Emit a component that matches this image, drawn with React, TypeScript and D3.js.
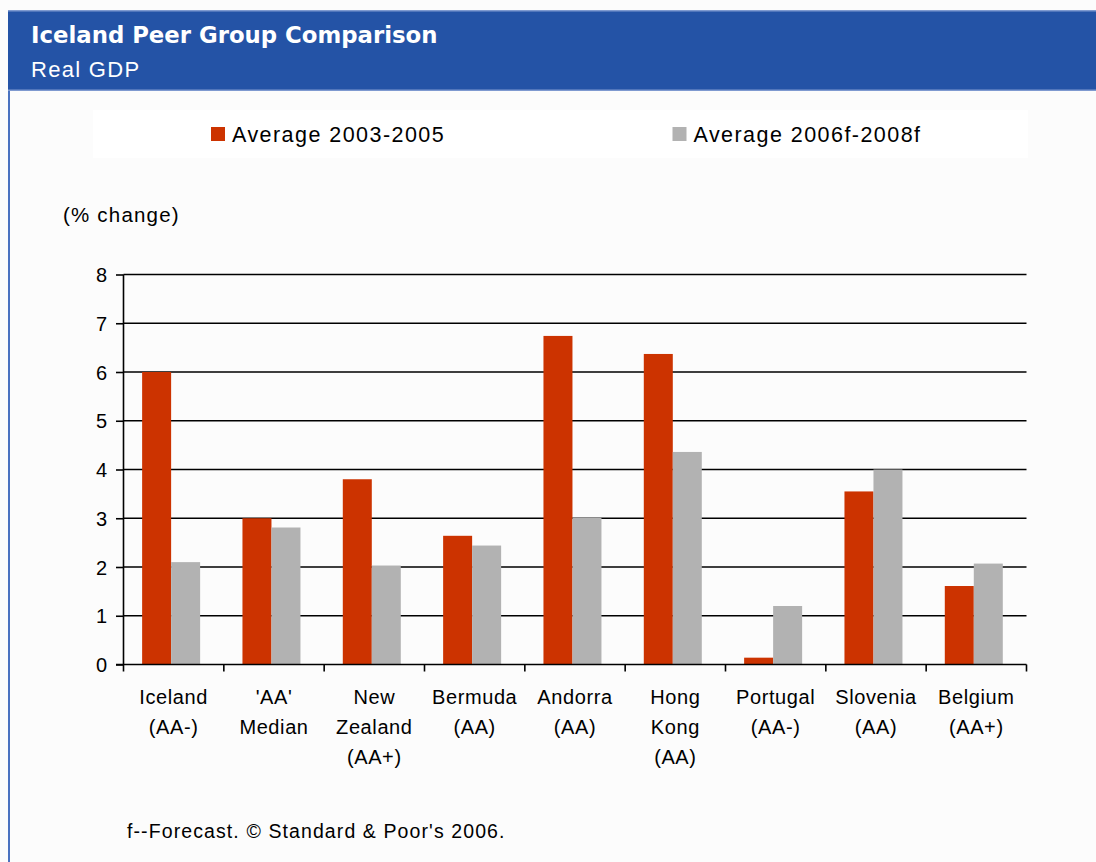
import React from 'react';
import * as d3 from 'd3';

const categories = [
  ["Iceland", "(AA-)"],
  ["'AA'", "Median"],
  ["New", "Zealand", "(AA+)"],
  ["Bermuda", "(AA)"],
  ["Andorra", "(AA)"],
  ["Hong", "Kong", "(AA)"],
  ["Portugal", "(AA-)"],
  ["Slovenia", "(AA)"],
  ["Belgium", "(AA+)"],
];
const seriesNames = ["Average 2003-2005", "Average 2006f-2008f"];
const avg2003_2005 = [6.0, 3.0, 3.8, 2.64, 6.74, 6.37, 0.14, 3.55, 1.61];
const avg2006_2008 = [2.1, 2.81, 2.03, 2.44, 3.01, 4.36, 1.2, 4.0, 2.07];
const yTicks = [0, 1, 2, 3, 4, 5, 6, 7, 8];
const colors = ["#cc3300", "#b2b2b2"];

const FONT = "'Liberation Sans', Arial, sans-serif";

const App = () => {
  const svgRef = React.useRef(null);
  const W = 1096, H = 862;
  const plot = { left: 123.5, right: 1026.5, top: 274.5, bottom: 664.5 };

  React.useEffect(() => {
    const svg = d3.select(svgRef.current);
    svg.selectAll("*").remove();

    svg.append("rect").attr("width", W).attr("height", H).attr("fill", "#fcfcfc");

    // header
    svg.append("rect").attr("x", 8).attr("y", 10).attr("width", W - 8).attr("height", 81)
      .attr("fill", "#2453a6");
    svg.append("rect").attr("x", 8).attr("y", 10).attr("width", W - 8).attr("height", 1.5)
      .attr("fill", "#7f9ad0");
    svg.append("rect").attr("x", 8).attr("y", 89.5).attr("width", W - 8).attr("height", 1.5)
      .attr("fill", "#7f9ad0");
    svg.append("rect").attr("x", 8).attr("y", 91).attr("width", 2).attr("height", H - 91)
      .attr("fill", "#4a72c0");

    svg.append("text").attr("x", 31).attr("y", 43)
      .style("font-family", "'DejaVu Sans', Tahoma, sans-serif").style("font-weight", "bold")
      .style("font-size", "22.8px").attr("fill", "#fff")
      .text("Iceland Peer Group Comparison");
    svg.append("text").attr("x", 31).attr("y", 77)
      .style("font-family", FONT).style("font-size", "22px").style("letter-spacing", "1.3px")
      .attr("fill", "#fff")
      .text("Real GDP");

    // legend
    svg.append("rect").attr("x", 93).attr("y", 110).attr("width", 935).attr("height", 48)
      .attr("fill", "#ffffff");
    const legendX = [211, 672.5];
    seriesNames.forEach((s, i) => {
      svg.append("rect").attr("x", legendX[i]).attr("y", 127).attr("width", 14).attr("height", 14)
        .attr("fill", colors[i]);
      svg.append("text").attr("x", legendX[i] + 21).attr("y", 142)
        .style("font-family", FONT).style("font-size", "21.5px").style("letter-spacing", "1.45px")
        .attr("fill", "#000").text(s);
    });

    svg.append("text").attr("x", 63).attr("y", 222)
      .style("font-family", FONT).style("font-size", "20.5px").style("letter-spacing", "1.2px")
      .attr("fill", "#000").text("(% change)");

    // scales
    const x0 = d3.scaleBand().domain(d3.range(categories.length))
      .range([plot.left, plot.right]).paddingInner(0).paddingOuter(0);
    const x1 = d3.scaleBand().domain(d3.range(2))
      .range([0, x0.bandwidth()]).paddingInner(0).paddingOuter(0.73).align(0.44);
    const y = d3.scaleLinear().domain([0, 8]).range([plot.bottom, plot.top]);

    // gridlines
    svg.append("g").selectAll("line").data(yTicks.slice(1)).enter().append("line")
      .attr("x1", plot.left).attr("x2", plot.right)
      .attr("y1", (d) => y(d)).attr("y2", (d) => y(d))
      .attr("stroke", "#000").attr("stroke-width", 1.6);

    // bars
    const series = [avg2003_2005, avg2006_2008];
    series.forEach((vals, si) => {
      svg.append("g").selectAll("rect").data(vals).enter().append("rect")
        .attr("x", (d, i) => x0(i) + x1(si))
        .attr("y", (d) => y(d))
        .attr("width", x1.bandwidth())
        .attr("height", (d) => y(0) - y(d))
        .attr("fill", colors[si]);
    });

    // y axis
    const yAxis = svg.append("g").attr("transform", `translate(${plot.left},0)`)
      .call(d3.axisLeft(y).tickValues(yTicks).tickSize(7.5).tickPadding(9).tickFormat(d3.format("d")));
    yAxis.select(".domain").attr("stroke", "#000").attr("stroke-width", 1.6)
      .attr("d", `M0,${plot.top}V${plot.bottom}`);
    yAxis.selectAll(".tick line").attr("stroke", "#000").attr("stroke-width", 1.6);
    yAxis.selectAll(".tick text").style("font-family", FONT).style("font-size", "20px")
      .attr("fill", "#000").attr("dy", "0.36em");

    // x axis
    const xg = svg.append("g");
    xg.append("line").attr("x1", plot.left - 7.5).attr("x2", plot.right)
      .attr("y1", plot.bottom).attr("y2", plot.bottom)
      .attr("stroke", "#000").attr("stroke-width", 1.6);
    const bounds = d3.range(categories.length + 1).map((i) =>
      i < categories.length ? x0(i) : plot.right);
    xg.selectAll("line.tk").data(bounds).enter().append("line").attr("class", "tk")
      .attr("x1", (d) => d).attr("x2", (d) => d)
      .attr("y1", plot.bottom).attr("y2", plot.bottom + 7)
      .attr("stroke", "#000").attr("stroke-width", 1.6);

    const labels = xg.selectAll("text.cat").data(categories).enter().append("text")
      .attr("class", "cat")
      .attr("x", (d, i) => x0(i) + x0.bandwidth() / 2)
      .attr("y", 704)
      .attr("text-anchor", "middle")
      .style("font-family", FONT).style("font-size", "20px").style("letter-spacing", "0.6px")
      .attr("fill", "#000");
    labels.each(function (d) {
      const t = d3.select(this);
      d.forEach((line, li) => {
        t.append("tspan").attr("x", t.attr("x")).attr("dy", li === 0 ? 0 : 30).text(line);
      });
    });

    // footer
    svg.append("text").attr("x", 127).attr("y", 838)
      .style("font-family", FONT).style("font-size", "19.5px").style("letter-spacing", "1.1px")
      .attr("fill", "#000").text("f--Forecast. © Standard & Poor's 2006.");
  }, []);

  return (
    <svg ref={svgRef} width={W} height={H}
      style={{ position: "absolute", left: 0, top: 0, display: "block" }} />
  );
};

export default App;
